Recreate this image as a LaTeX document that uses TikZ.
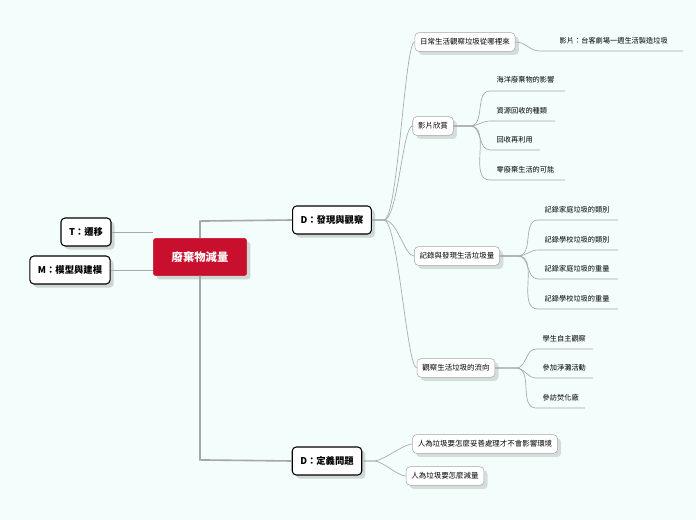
\documentclass[tikz,border=0pt]{standalone}
\usepackage{fontspec}
\setmainfont{Noto Sans CJK TC}
\usetikzlibrary{shadows}
\definecolor{bg}{HTML}{F2FDFC}
\definecolor{rootred}{HTML}{C8102E}
\definecolor{wire}{HTML}{A8A8A8}
\begin{document}
\begin{tikzpicture}[x=0.75pt,y=-0.75pt,
    root/.style={draw=rootred, fill=rootred, rounded corners=2pt, text=white, font=\fontsize{8.5}{10}\selectfont\bfseries, minimum width=70pt, minimum height=28pt, drop shadow={opacity=0.3}},
    topic/.style={draw=black, thick, fill=white, rounded corners=3pt, font=\fontsize{7}{8}\selectfont\bfseries, minimum height=21pt, inner xsep=6pt, drop shadow={opacity=0.3}},
    sub/.style={draw=gray!70, fill=white, rounded corners=3pt, font=\fontsize{5.6}{7}\selectfont, minimum height=14pt, inner xsep=4pt, drop shadow={opacity=0.25}},
    leaf/.style={font=\fontsize{5.4}{6}\selectfont, anchor=west},
    wire/.style={draw=wire, line width=0.5pt},
    trunk/.style={draw=gray!70, line width=1.2pt}
  ]
  \fill[bg] (0,0) rectangle (696,520);

  % centre and main topics
  \node[root] (root) at (200,257) {廢棄物減量};
  \node[topic] (t) at (86,232) {T：遷移};
  \node[topic] (m) at (70,270) {M：模型與建模};
  \node[topic] (d1) at (332,220) {D：發現與觀察};
  \node[topic] (d2) at (327,461) {D：定義問題};

  % second level
  \node[sub] (daily) at (465,42) {日常生活觀察垃圾從哪裡來};
  \node[sub] (film) at (433,126) {影片欣賞};
  \node[sub] (record) at (457,256) {記錄與發現生活垃圾量};
  \node[sub] (flow) at (456,368) {觀察生活垃圾的流向};
  \node[sub] (how) at (485,444) {人為垃圾要怎麼妥善處理才不會影響環境};
  \node[sub] (less) at (445,476) {人為垃圾要怎麼減量};

  % leaves
  \node[leaf] (v1) at (555,41) {影片：台客劇場一週生活製造垃圾};
  \node[leaf] (f1) at (492,80) {海洋廢棄物的影響};
  \node[leaf] (f2) at (492,111) {資源回收的種類};
  \node[leaf] (f3) at (492,140) {回收再利用};
  \node[leaf] (f4) at (492,170) {零廢棄生活的可能};
  \node[leaf] (r1) at (540,210) {記錄家庭垃圾的類別};
  \node[leaf] (r2) at (540,240) {記錄學校垃圾的類別};
  \node[leaf] (r3) at (540,269) {記錄家庭垃圾的重量};
  \node[leaf] (r4) at (540,299) {記錄學校垃圾的重量};
  \node[leaf] (o1) at (538,339) {學生自主觀察};
  \node[leaf] (o2) at (538,368) {參加淨灘活動};
  \node[leaf] (o3) at (538,398) {參訪焚化廠};

  % connectors from the centre
  \draw[trunk] (root.north) -- ++(0,-17) coordinate (rt) -- (d1.west);
  \draw[trunk] (root.south) -- ++(0,184) coordinate (rb) -- (d2.west);
  \draw[wire] (t.east) -- (root.west |- t.east);
  \draw[wire] (m.east) -- (root.west |- m.east);

  % second level connectors
  \foreach \s in {daily,film,record,flow}
    \draw[wire] (d1.east) -- ++(12,0) .. controls +(14,0) and +(-10,0) .. (\s.west);
  \foreach \s in {how,less}
    \draw[wire] (d2.east) -- ++(12,0) .. controls +(8,0) and +(-8,0) .. (\s.west);

  % leaves with underlines
  \draw[wire] (daily.east) to[out=0,in=180] (540,51) -- (683,51);
  \foreach \n/\y/\e in {f1/91/565,f2/121/555,f3/150/540,f4/180/565}
    \draw[wire] (film.east) -- (470,126) to[out=0,in=180] (490,\y) -- (\e,\y);
  \foreach \n/\y/\e in {r1/220/618,r2/250/618,r3/279/618,r4/309/618}
    \draw[wire] (record.east) -- (518,256) to[out=0,in=180] (538,\y) -- (\e,\y);
  \foreach \n/\y/\e in {o1/349/593,o2/378/593,o3/408/585}
    \draw[wire] (flow.east) -- (516,368) to[out=0,in=180] (536,\y) -- (\e,\y);
\end{tikzpicture}
\end{document}
